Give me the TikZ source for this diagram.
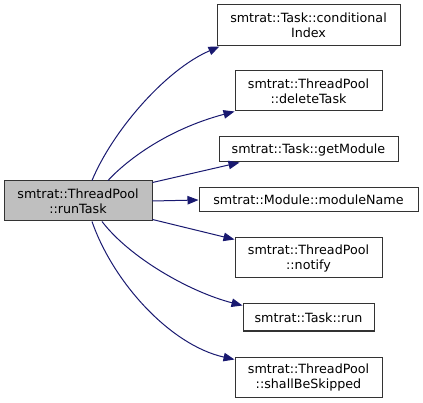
\documentclass[tikz,border=0pt]{standalone}
\usepackage{fontspec}
\setmainfont{DejaVu Sans}
\usetikzlibrary{arrows.meta}
\definecolor{edgeblue}{HTML}{191970}
\definecolor{mainfill}{HTML}{BFBFBF}
\definecolor{boxline}{HTML}{333333}
\tikzset{
  fnbox/.style={draw=boxline, line width=1pt, fill=white, rectangle, inner sep=0pt,
    align=center, font=\fontsize{12.7}{15}\selectfont},
  callarrow/.style={draw=edgeblue, line width=1pt,
    -{Triangle[length=11pt,width=8.5pt]}}
}
\begin{document}
\begin{tikzpicture}[x=1pt,y=-1pt]
\useasboundingbox (0,0) rectangle (423,403);
\node[fnbox, fill=mainfill, minimum width=148pt, minimum height=40pt] (main) at (78,201) {smtrat::ThreadPool\\::runTask};
\node[fnbox, minimum width=183pt, minimum height=41pt] (n1) at (308.5,25.5) {smtrat::Task::conditional\\Index};
\node[fnbox, minimum width=147pt, minimum height=40pt] (n2) at (308.5,91) {smtrat::ThreadPool\\::deleteTask};
\node[fnbox, minimum width=179pt, minimum height=25pt] (n3) at (308.5,149.5) {smtrat::Task::getModule};
\node[fnbox, minimum width=219pt, minimum height=24pt] (n4) at (308.5,200) {smtrat::Module::moduleName};
\node[fnbox, minimum width=147pt, minimum height=40pt] (n5) at (308.5,258) {smtrat::ThreadPool\\::notify};
\node[fnbox, minimum width=131pt, minimum height=27pt] (n6) at (308.5,317.5) {smtrat::Task::run};
\node[fnbox, minimum width=147pt, minimum height=40pt] (n7) at (308.5,377) {smtrat::ThreadPool\\::shallBeSkipped};

\draw[callarrow] ([xshift=14pt]main.north) .. controls (112,132) and (165,70) .. ([xshift=3pt]n1.south west);
\draw[callarrow] ([xshift=30pt]main.north) .. controls (125,162) and (165,130) .. (n2.south west);
\draw[callarrow] ([yshift=-2pt]main.north east) -- ([xshift=21pt]n3.south west);
\draw[callarrow] (main.east) -- (n4.west);
\draw[callarrow] ([yshift=2pt]main.south east) -- ([yshift=-2pt]n5.north west);
\draw[callarrow] ([xshift=24pt]main.south) .. controls (130,258) and (190,292) .. ([yshift=-2pt]n6.north west);
\draw[callarrow] ([xshift=14pt]main.south) .. controls (113,282) and (170,345) .. ([yshift=-3pt]n7.north west);
\end{tikzpicture}
\end{document}
